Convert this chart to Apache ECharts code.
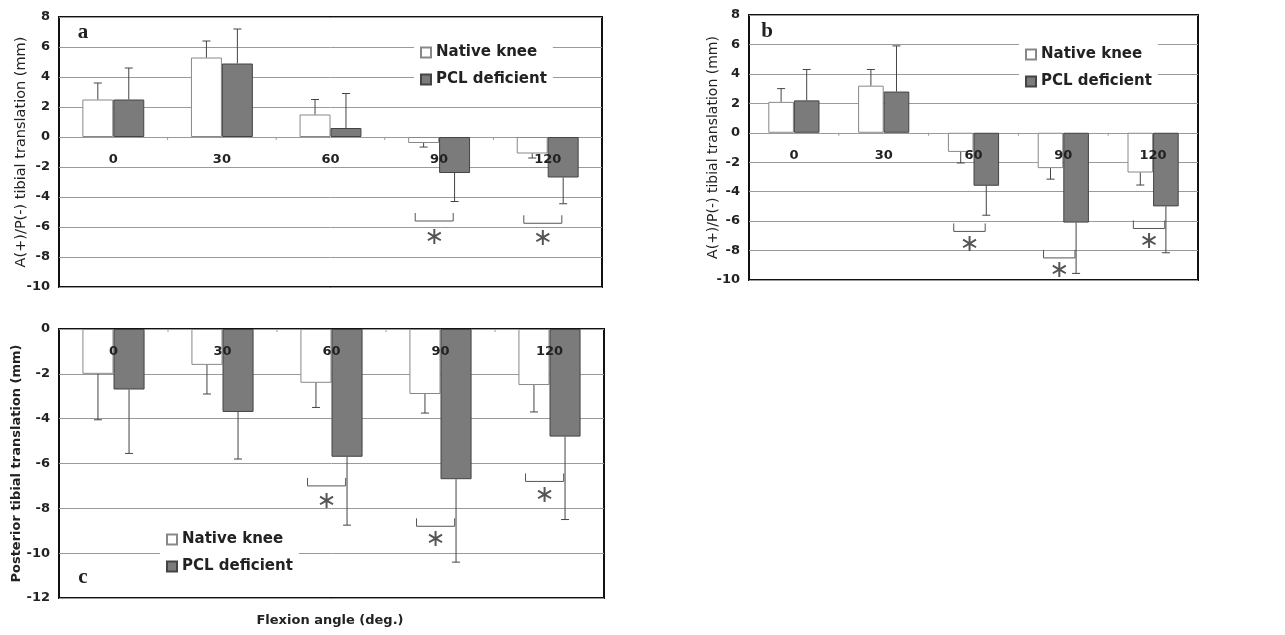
<!DOCTYPE html>
<html>
<head>
<meta charset="utf-8">
<script src="https://cdn.jsdelivr.net/npm/echarts@6/dist/echarts.min.js"></script>
<style>
html,body{margin:0;padding:0;background:#fff;}
#chart{width:1285px;height:635px;}
</style>
</head>
<body>
<div id="chart"></div>
<script>
// ---------- DATA ----------
const categories = ['0', '30', '60', '90', '120'];
const seriesNames = ['Native knee', 'PCL deficient'];

// Panel a: A(+)/P(-) tibial translation (mm)
const aNative   = [2.5, 5.3, 1.5, -0.4, -1.1];
const aNativeSD = [1.1, 1.1, 1.0, 0.27, 0.3];
const aPCL      = [2.5, 4.9, 0.6, -2.4, -2.7];
const aPCLSD    = [2.1, 2.3, 2.3, 1.9, 1.75];
const aSigCats    = [3, 4];
const aSigBracket = [-5.6, -5.75];
const aSigStar    = [-6.7, -6.8];

// Panel b: A(+)/P(-) tibial translation (mm)
const bNative   = [2.1, 3.2, -1.3, -2.4, -2.7];
const bNativeSD = [0.9, 1.1, 0.75, 0.75, 0.85];
const bPCL      = [2.2, 2.8, -3.6, -6.1, -5.0];
const bPCLSD    = [2.1, 3.1, 2.0, 3.45, 3.15];
const bSigCats    = [2, 3, 4];
const bSigBracket = [-6.7, -8.5, -6.5];
const bSigStar    = [-7.6, -9.4, -7.4];

// Panel c: Posterior tibial translation (mm)
const cNative   = [-2.0, -1.6, -2.4, -2.9, -2.5];
const cNativeSD = [2.05, 1.3, 1.1, 0.85, 1.2];
const cPCL      = [-2.7, -3.7, -5.7, -6.7, -4.8];
const cPCLSD    = [2.85, 2.1, 3.05, 3.7, 3.7];
const cSigCats    = [2, 3, 4];
const cSigBracket = [-7.0, -8.8, -6.8];
const cSigStar    = [-7.7, -9.4, -7.45];

const yTicksAB = {min: -10, max: 8, interval: 2};
const yTicksC  = {min: -12, max: 0, interval: 2};

// ---------- STYLE / LAYOUT ----------
const FONT = 'DejaVu Sans';
const BAR_HALF_OFFSET = 0.1425; // fraction of band: bar centre offset from category centre
const LABEL_DROP = 23;          // px: category label centre below the zero line
const grids = [
  {left: 59, top: 17, width: 543, height: 270},
  {left: 749, top: 15, width: 449, height: 265},
  {left: 59, top: 329, width: 545, height: 269}
];

function errRender(offsetSign) {
  return function (params, api) {
    const i = api.value(0), v = api.value(1), sd = api.value(2);
    const band = api.size([1, 0])[0];
    const c0 = api.coord([i, v]);
    const end = api.coord([i, v + (v >= 0 ? sd : -sd)]);
    const x = c0[0] + offsetSign * BAR_HALF_OFFSET * band;
    const cap = 4;
    const st = {stroke: '#444', lineWidth: 1};
    return {type: 'group', children: [
      {type: 'line', shape: {x1: x, y1: c0[1], x2: x, y2: end[1]}, style: st},
      {type: 'line', shape: {x1: x - cap, y1: end[1], x2: x + cap, y2: end[1]}, style: st}
    ]};
  };
}

function sigRender(params, api) {
  const i = api.value(0), yb = api.value(1), ys = api.value(2);
  const band = api.size([1, 0])[0];
  const cx = api.coord([i, 0])[0];
  const y = api.coord([i, yb])[1];
  const sy = api.coord([i, ys])[1];
  const l = cx - 0.22 * band, r = cx + 0.13 * band;
  const st = {stroke: '#555', lineWidth: 1, fill: null};
  return {type: 'group', children: [
    {type: 'polyline', shape: {points: [[l, y - 8], [l, y], [r, y], [r, y - 8]]}, style: st},
    {type: 'text', x: (l + r) / 2, y: sy, style: {text: '∗', font: '24px "DejaVu Sans"', fill: '#555', align: 'center', verticalAlign: 'middle'}}
  ]};
}

// category labels + small ticks drawn on the zero line (axis crosses at 0)
function catRender(params, api) {
  const i = api.value(0);
  const band = api.size([1, 0])[0];
  const p = api.coord([i, 0]);
  const children = [
    {type: 'text', x: p[0], y: p[1] + LABEL_DROP, style: {text: categories[i], font: 'bold 13px "DejaVu Sans"', fill: '#222', align: 'center', verticalAlign: 'middle'}}
  ];
  if (i > 0) {
    const tx = p[0] - band / 2;
    children.push({type: 'line', shape: {x1: tx, y1: p[1], x2: tx, y2: p[1] + 3}, style: {stroke: '#999', lineWidth: 1}});
  }
  return {type: 'group', children};
}

const panels = [
  {native: aNative, nsd: aNativeSD, pcl: aPCL, psd: aPCLSD, sc: aSigCats, sb: aSigBracket, ss: aSigStar, y: yTicksAB,
   name: 'A(+)/P(-) tibial translation (mm)', nameBold: false, nameSize: 14.5, gap: 30},
  {native: bNative, nsd: bNativeSD, pcl: bPCL, psd: bPCLSD, sc: bSigCats, sb: bSigBracket, ss: bSigStar, y: yTicksAB,
   name: 'A(+)/P(-) tibial translation (mm)', nameBold: false, nameSize: 14, gap: 29},
  {native: cNative, nsd: cNativeSD, pcl: cPCL, psd: cPCLSD, sc: cSigCats, sb: cSigBracket, ss: cSigStar, y: yTicksC,
   name: 'Posterior tibial translation (mm)', nameBold: true, nameSize: 13, gap: 36}
];

const option = {
  animation: false,
  backgroundColor: '#fff',
  grid: grids.map(g => Object.assign({show: true, borderColor: '#111', borderWidth: 2, backgroundColor: 'transparent'}, g)),
  xAxis: panels.map((p, k) => ({
    type: 'category', gridIndex: k, data: categories,
    axisLine: {show: false}, axisTick: {show: false}, axisLabel: {show: false},
    splitLine: {show: false}
  })),
  yAxis: panels.map((p, k) => ({
    type: 'value', gridIndex: k, min: p.y.min, max: p.y.max, interval: p.y.interval,
    name: p.name, nameLocation: 'middle', nameGap: p.gap, nameRotate: 90, nameMoveOverlap: false,
    nameTextStyle: {fontFamily: FONT, fontSize: p.nameSize, fontWeight: p.nameBold ? 'bold' : 'normal', color: '#222'},
    axisLine: {show: false}, axisTick: {show: false},
    axisLabel: {margin: 9, fontFamily: FONT, fontSize: 13, fontWeight: 'bold', color: '#222'},
    splitLine: {show: true, lineStyle: {color: '#9a9a9a', width: 1}}
  })),
  legend: [
    {left: 414, top: 41},
    {left: 1019, top: 43},
    {left: 160, top: 528}
  ].map(pos => Object.assign({
    data: seriesNames, orient: 'vertical', itemWidth: 10, itemHeight: 10, itemGap: 12, icon: 'rect',
    backgroundColor: '#fff', padding: [4, 6], selectedMode: false,
    textStyle: {fontFamily: FONT, fontSize: 15, fontWeight: 'bold', color: '#222', lineHeight: 15}
  }, pos)),
  graphic: [
    {type: 'text', x: 83, y: 33, style: {text: 'a', font: 'bold 21px "Liberation Serif"', fill: '#222', align: 'center', verticalAlign: 'middle'}},
    {type: 'text', x: 767, y: 32, style: {text: 'b', font: 'bold 21px "Liberation Serif"', fill: '#222', align: 'center', verticalAlign: 'middle'}},
    {type: 'text', x: 83, y: 578, style: {text: 'c', font: 'bold 21px "Liberation Serif"', fill: '#222', align: 'center', verticalAlign: 'middle'}},
    {type: 'text', x: 330, y: 621, style: {text: 'Flexion angle (deg.)', font: 'bold 13px "DejaVu Sans"', fill: '#222', align: 'center', verticalAlign: 'middle'}}
  ],
  series: []
};

panels.forEach((p, k) => {
  option.series.push({
    name: seriesNames[0], type: 'bar', xAxisIndex: k, yAxisIndex: k, data: p.native,
    barGap: '0%', barCategoryGap: '43%',
    itemStyle: {color: '#ffffff', borderColor: '#888', borderWidth: 1}
  });
  option.series.push({
    name: seriesNames[1], type: 'bar', xAxisIndex: k, yAxisIndex: k, data: p.pcl,
    barGap: '0%', barCategoryGap: '43%',
    itemStyle: {color: '#7b7b7b', borderColor: '#444', borderWidth: 1}
  });
  option.series.push({
    type: 'custom', xAxisIndex: k, yAxisIndex: k, z: 4, silent: true,
    data: p.native.map((v, i) => [i, v, p.nsd[i]]), renderItem: errRender(-1)
  });
  option.series.push({
    type: 'custom', xAxisIndex: k, yAxisIndex: k, z: 4, silent: true,
    data: p.pcl.map((v, i) => [i, v, p.psd[i]]), renderItem: errRender(1)
  });
  option.series.push({
    type: 'custom', xAxisIndex: k, yAxisIndex: k, z: 4, silent: true,
    data: p.sc.map((c, j) => [c, p.sb[j], p.ss[j]]), renderItem: sigRender
  });
  option.series.push({
    type: 'custom', xAxisIndex: k, yAxisIndex: k, z: 5, silent: true, clip: false,
    data: categories.map((c, i) => [i, 0]), renderItem: catRender
  });
});

const chart = echarts.init(document.getElementById('chart'), null, {renderer: 'canvas'});
chart.setOption(option);
</script>
</body>
</html>
